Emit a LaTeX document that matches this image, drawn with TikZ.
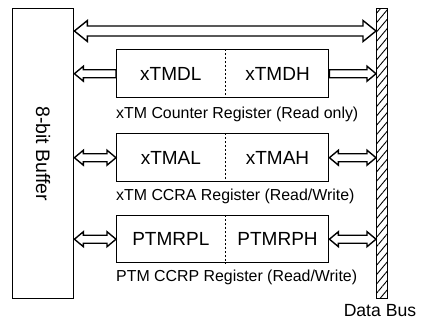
\documentclass[tikz,border=0pt]{standalone}
\usepackage{fontspec}
\setmainfont{Liberation Sans}
\usetikzlibrary{calc,patterns.meta}
\newcommand\hollowdbl[5]{%
  \draw[hollow] let \p1=(#1), \p2=(#2) in
   (\x1,\y1) -- (\x1+#5pt,\y1+#4pt) -- (\x1+#5pt,\y1+#3pt) -- (\x2-#5pt,\y1+#3pt)
   -- (\x2-#5pt,\y1+#4pt) -- (\x2,\y1) -- (\x2-#5pt,\y1-#4pt) -- (\x2-#5pt,\y1-#3pt)
   -- (\x1+#5pt,\y1-#3pt) -- (\x1+#5pt,\y1-#4pt) -- cycle;}
\newcommand\hollowtoleft[5]{%
  \draw[hollow] let \p1=(#1), \p2=(#2) in
   (\x1,\y1) -- (\x1+#5pt,\y1+#4pt) -- (\x1+#5pt,\y1+#3pt) -- (\x2,\y1+#3pt)
   -- (\x2,\y1-#3pt) -- (\x1+#5pt,\y1-#3pt) -- (\x1+#5pt,\y1-#4pt) -- cycle;}
\newcommand\hollowtoright[5]{%
  \draw[hollow] let \p1=(#1), \p2=(#2) in
   (\x2,\y1) -- (\x2-#5pt,\y1+#4pt) -- (\x2-#5pt,\y1+#3pt) -- (\x1,\y1+#3pt)
   -- (\x1,\y1-#3pt) -- (\x2-#5pt,\y1-#3pt) -- (\x2-#5pt,\y1-#4pt) -- cycle;}
\begin{document}
\begin{tikzpicture}[x=1pt,y=1pt,
  frame/.style={draw, line width=1.4pt, inner sep=0pt},
  regbox/.style={frame, minimum width=212pt, minimum height=48pt, anchor=north west},
  half/.style={font=\fontsize{19}{21}\selectfont, inner sep=0pt},
  caption/.style={font=\fontsize{15.9}{17}\selectfont, anchor=base west, inner sep=0pt},
  bigtext/.style={font=\fontsize{19}{21}\selectfont, inner sep=0pt},
  hollow/.style={draw, line width=1.4pt, fill=white, line join=miter},
  divider/.style={line width=1.6pt, dash pattern=on 2.2pt off 1.8pt}]

\useasboundingbox (0,0) rectangle (421,-322);

% buffer
\node[frame, minimum width=61pt, minimum height=290pt, anchor=north west] (buf) at (12,-8) {};
\node[bigtext, font=\fontsize{19.5}{21}\selectfont, rotate=-90] (buftext) at (buf.center) {8-bit Buffer};

% data bus
\node[frame, minimum width=11pt, minimum height=290pt, anchor=north west,
      pattern={Lines[angle=50,distance=6pt,line width=0.9pt]}] (bus) at (376,-8) {};
\node[bigtext, font=\fontsize{17.6}{20}\selectfont, anchor=base] (bustext) at ([xshift=-2pt,yshift=-18pt]bus.south) {Data Bus};

% registers
\node[regbox] (b1) at (116,-49) {};
\node[regbox] (b2) at (116,-133) {};
\node[regbox, minimum height=47pt] (b3) at (116,-215) {};

\foreach \b/\l/\r in {b1/xTMDL/xTMDH, b2/xTMAL/xTMAH, b3/PTMRPL/PTMRPH}{
  \node[half] (\b l) at ($(\b.west)!0.257!(\b.east)$) {\l};
  \node[half] (\b r) at ($(\b.west)!0.757!(\b.east)$) {\r};
  \draw[divider] ($(\b.north west)!0.514!(\b.north east)$) -- ($(\b.south west)!0.514!(\b.south east)$);
}

\node[caption] (c1) at ([yshift=-20pt]b1.south west) {xTM Counter Register (Read only)};
\node[caption] (c2) at ([yshift=-18pt]b2.south west) {xTM CCRA Register (Read/Write)};
\node[caption] (c3) at ([yshift=-18pt]b3.south west) {PTM CCRP Register (Read/Write)};

% arrows
\coordinate (topy) at (200,-31);
\hollowdbl{buf.east |- topy}{bus.west |- topy}{5}{10.5}{13}

\hollowtoleft{buf.east |- b1.west}{b1.west}{4}{7.5}{9}
\hollowtoright{b1.east}{bus.west |- b1.east}{4}{7.5}{9}

\hollowdbl{buf.east |- b2.west}{b2.west}{4}{7.5}{9}
\hollowdbl{b2.east}{bus.west |- b2.east}{4}{7.5}{9}

\hollowdbl{buf.east |- b3.west}{b3.west}{4}{7.5}{9}
\hollowdbl{b3.east}{bus.west |- b3.east}{4}{7.5}{9}
\end{tikzpicture}
\end{document}
